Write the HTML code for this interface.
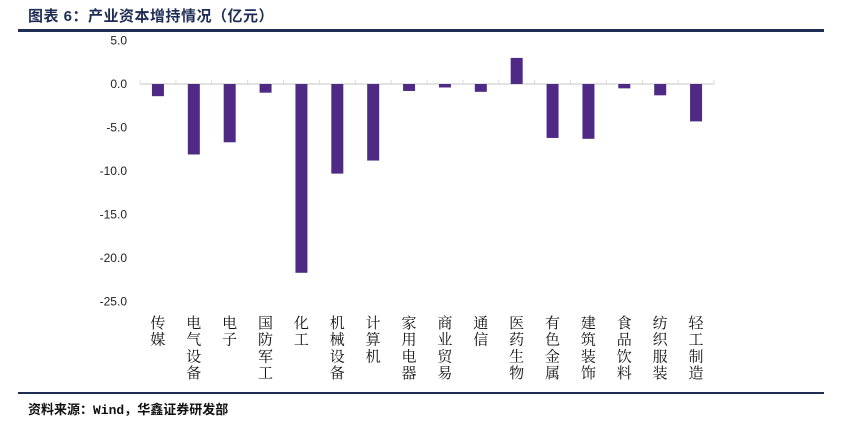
<!DOCTYPE html>
<html><head><meta charset="utf-8"><style>
body{margin:0;width:854px;height:421px;background:#fff;overflow:hidden;position:relative;font-family:"Liberation Sans","Noto Sans CJK SC",sans-serif}
#title{position:absolute;left:28px;top:5px;font-size:15px;color:#1f2d55;font-weight:bold;letter-spacing:0.5px}
#topline{position:absolute;left:18px;top:29px;width:806px;height:3px;background:#1f2d55}
#botline{position:absolute;left:18px;top:392px;width:806px;height:2px;background:#1f2d55}
#src{position:absolute;left:28px;top:399px;font-size:13px;color:#111;font-weight:bold;font-family:"Liberation Mono","Noto Sans CJK SC",monospace}
svg{position:absolute;left:0;top:0}
</style></head><body>
<div id="title">图表 6：产业资本增持情况（亿元）</div>
<div id="topline"></div>
<svg id="chart" width="854" height="421"></svg>
<div id="botline"></div>
<div id="src">资料来源：Wind，华鑫证券研发部</div>
<script>
const categories=["传媒","电气设备","电子","国防军工","化工","机械设备","计算机","家用电器","商业贸易","通信","医药生物","有色金属","建筑装饰","食品饮料","纺织服装","轻工制造"];
const values=[-1.4,-8.1,-6.7,-1.0,-21.7,-10.3,-8.8,-0.8,-0.4,-0.9,3.0,-6.2,-6.3,-0.5,-1.3,-4.3];
const ticks=[5,0,-5,-10,-15,-20,-25];
const tickLabels=["5.0","0.0","-5.0","-10.0","-15.0","-20.0","-25.0"];
const svg=document.getElementById('chart');const NS="http://www.w3.org/2000/svg";
const x0=140,x1=714,yTop=40.5,yBot=301.5,vMax=5,vMin=-25;
const y=v=>yTop+(vMax-v)/(vMax-vMin)*(yBot-yTop);
const band=(x1-x0)/categories.length;
const xc=i=>x0+band*(i+0.5);
function mk(t,a){const e=document.createElementNS(NS,t);for(const k in a)e.setAttribute(k,a[k]);svg.appendChild(e);return e;}
ticks.forEach((t,i)=>{
const e=mk('text',{x:127,y:y(t)+4,'text-anchor':'end','font-size':12,fill:'#222','font-family':'Liberation Sans, sans-serif'});


e.textContent=tickLabels[i];});
const ax=mk('line',{x1:x0,x2:x1,y1:y(0),y2:y(0),stroke:'#d9d9d9','stroke-width':1.5});


for(let i=0;i<=categories.length;i++){const t=mk('line',{x1:x0+band*i,x2:x0+band*i,y1:y(0)-4,y2:y(0),stroke:'#d9d9d9'});

}
categories.forEach((c,i)=>{
const v=values[i];const b=mk('rect',{x:xc(i)-6,y:Math.min(y(v),y(0)),width:12,height:Math.abs(y(v)-y(0)),fill:'#4e2a84'});


const g=mk('text',{'font-size':15,fill:'#111','font-family':'Liberation Serif, Noto Serif CJK SC, serif','text-anchor':'middle'});


[...c].forEach((ch,j)=>{const s=document.createElementNS(NS,'tspan');s.setAttribute('x',xc(i));s.setAttribute('y',328+j*16.7);s.textContent=ch;g.appendChild(s);});
});
</script>
</body></html>
